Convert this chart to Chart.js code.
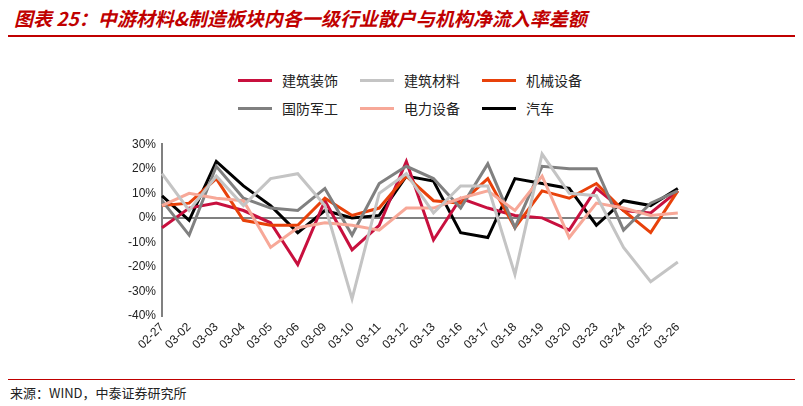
<!DOCTYPE html>
<html><head><meta charset="utf-8">
<script src="https://cdn.jsdelivr.net/npm/chart.js@4.4.4/dist/chart.umd.min.js"></script>
<style>
body{margin:0;width:803px;height:406px;background:#fff;font-family:"Noto Sans CJK SC","Noto Sans",sans-serif;position:relative;overflow:hidden}
.title{position:absolute;left:14px;top:4px;color:#c00000;font-size:19px;font-weight:bold;font-style:italic}
.rule{position:absolute;left:8px;right:8px;height:2px;background:#c00000}
.src{position:absolute;left:10px;top:383px;font-size:13px;color:#222}
.legend{position:absolute;left:238px;top:70px;font-size:14px;color:#222;display:grid;grid-template-columns:122px 122px 122px;row-gap:8px}
.legend span{display:flex;align-items:center}
.legend i{display:inline-block;width:34px;height:3px;margin-right:10px}
.wrap{position:absolute;left:122px;top:131px;width:570px;height:225px}
</style></head><body>
<div class="title">图表 25：中游材料&amp;制造板块内各一级行业散户与机构净流入率差额</div>
<div class="rule" style="top:35px"></div>
<div class="legend" id="legend"></div>
<div class="wrap"><canvas id="c"></canvas></div>
<div class="rule" style="top:379px;height:1px"></div>
<div class="src">来源：WIND，中泰证券研究所</div>
<script>
const dates = ['02-27','03-02','03-03','03-04','03-05','03-06','03-09','03-10','03-11','03-12','03-13','03-16','03-17','03-18','03-19','03-20','03-23','03-24','03-25','03-26'];
const names = ['建筑装饰','建筑材料','机械设备','国防军工','电力设备','汽车'];
const colors = ['#c8103e','#c4c4c4','#e8410a','#808080','#f7a898','#000000'];
const jianzhuZhuangshi = [-4,4,6,3,-2,-19,7,-13,-3,23,-9,8,4,1,0,-5,12,3,2,11];
const jianzhuCailiao = [18,3,17,5,16,18,5,-33,10,18,2,13,13,-23,26,10,9,-12,-26,-18];
const jixieShebei = [5,6,16,-1,-3,-3,8,1,4,17,7,6,16,-4,11,8,14,3,-6,11];
const guofangJungong = [7,-7,21,8,4,3,12,-7,14,21,16,4,22,-4,21,20,20,-5,6,11];
const dianliShebei = [5,10,8,7,-12,-4,-2,-3,-5,4,4,8,11,3,17,-8,6,4,1,2];
const qiche = [9,-1,23,13,5,-6,3,0,1,17,15,-6,-8,16,14,12,-3,7,5,12];
const series = [jianzhuZhuangshi,jianzhuCailiao,jixieShebei,guofangJungong,dianliShebei,qiche];

const lg = document.getElementById('legend');
names.forEach((n,i)=>{ lg.innerHTML += `<span><i style="background:${colors[i]}"></i>${n}</span>`; });

// draw lighter series first like the original
const order = [1,4,3,2,0,5];
new Chart(document.getElementById('c'), {
  type:'line',
  data:{labels:dates, datasets: order.map(i=>({label:names[i],data:series[i],borderColor:colors[i],borderWidth:3,pointRadius:0,tension:0}))},
  options:{
    animation:false, maintainAspectRatio:false,
    layout:{padding:{left:0,right:14,top:0,bottom:0}},
    plugins:{legend:{display:false},tooltip:{enabled:false}},
    scales:{
      x:{offset:false,grid:{display:false,drawTicks:false},border:{display:false},
         ticks:{color:'#222',padding:4,font:{size:12,family:'Liberation Sans'},maxRotation:45,minRotation:45,autoSkip:false}},
      y:{min:-40,max:30,
         grid:{color:c=>c.tick.value===0?'#808080':'transparent',lineWidth:2,drawTicks:false},
         border:{color:'#808080',width:2},
         ticks:{stepSize:10,color:'#222',padding:6,font:{size:12,family:'Liberation Sans'},callback:v=>v+'%'}}
    }
  }
});
</script>
</body></html>
